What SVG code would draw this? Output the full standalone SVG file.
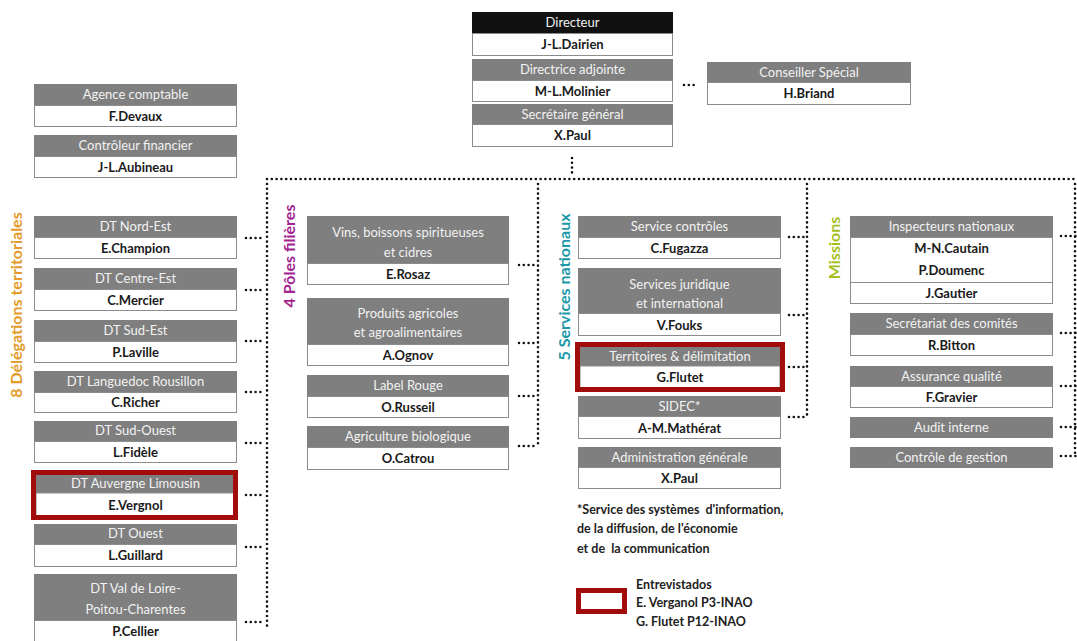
<svg xmlns="http://www.w3.org/2000/svg" width="1077" height="641" viewBox="0 0 1077 641">
<style>
.hd{fill:#7f7f7f}
.hdk{fill:#111}
.nm{fill:#fff;stroke:#8c8c8c;stroke-width:1}
.ht{font-family:Lato,"Open Sans",sans-serif;font-size:13px;fill:#f2f2f2;text-anchor:middle}
.nt{font-family:Lato,"Open Sans",sans-serif;font-size:13px;font-weight:bold;fill:#1a1a1a;text-anchor:middle}
.red{fill:none;stroke:#a10d0d;stroke-width:5}
.dot{fill:none;stroke:#111;stroke-width:2.6;stroke-dasharray:0 4.8;stroke-linecap:round}
.sec{font-family:Lato,"Open Sans",sans-serif;font-size:16px;font-weight:bold;text-anchor:middle}
.note{font-family:Lato,"Open Sans",sans-serif;font-size:12.5px;font-weight:bold;fill:#222}
</style>
<rect width="1077" height="641" fill="#fff"/>

<g id="connectors">
<path class="dot" d="M572 158V174"/>
<path class="dot" d="M267 179H1077"/>
<path class="dot" d="M267 184V626"/>
<path class="dot" d="M538 184V447"/>
<path class="dot" d="M807 184V418"/>
<path class="dot" d="M1075 184V457"/>
<path class="dot" d="M684 85H698"/>
<path class="dot" d="M246 238H265M246 290H265M246 341H265M246 392H265M246 443H265M246 495H265M246 547H265M246 622H265"/>
<path class="dot" d="M519 265H536M519 343H536M519 396H536M519 446H536"/>
<path class="dot" d="M789 237H805M789 315H805M789 367H805M789 417H805"/>
<path class="dot" d="M1061 236H1077M1061 333H1077M1061 386H1077M1061 427H1077M1061 456H1077"/>
</g>

<g id="labels">
<text class="sec" fill="#e39b2c" transform="translate(22 305) rotate(-90)">8 Délégations territoriales</text>
<text class="sec" fill="#a3238f" transform="translate(295 256) rotate(-90)">4 Pôles filières</text>
<text class="sec" fill="#1a98a8" transform="translate(570 287) rotate(-90)">5 Services nationaux</text>
<text class="sec" fill="#a6bf1e" transform="translate(840 248) rotate(-90)">Missions</text>
</g>

<g id="n-directeur">
<rect class="hdk" x="472" y="12" width="201" height="21"/><rect class="nm" x="472.5" y="33.5" width="200" height="22"/>
<text class="ht" x="572.5" y="27">Directeur</text><text class="nt" x="572.5" y="49">J-L.Dairien</text>
</g>
<g id="n-directrice">
<rect class="hd" x="472" y="59" width="201" height="21"/><rect class="nm" x="472.5" y="80.5" width="200" height="21"/>
<text class="ht" x="572.5" y="74">Directrice adjointe</text><text class="nt" x="572.5" y="96">M-L.Molinier</text>
</g>
<g id="n-secretaire">
<rect class="hd" x="472" y="104" width="201" height="20"/><rect class="nm" x="472.5" y="124.5" width="200" height="22"/>
<text class="ht" x="572.5" y="119">Secrétaire général</text><text class="nt" x="572.5" y="140">X.Paul</text>
</g>
<g id="n-conseiller">
<rect class="hd" x="707" y="62" width="204" height="20"/><rect class="nm" x="707.5" y="82.5" width="203" height="22"/>
<text class="ht" x="809" y="77">Conseiller Spécial</text><text class="nt" x="809" y="98">H.Briand</text>
</g>

<g id="n-agence">
<rect class="hd" x="34" y="84" width="203" height="21"/><rect class="nm" x="34.5" y="105.5" width="202" height="21"/>
<text class="ht" x="135.5" y="99">Agence comptable</text><text class="nt" x="135.5" y="121">F.Devaux</text>
</g>
<g id="n-controleur">
<rect class="hd" x="34" y="135" width="203" height="21"/><rect class="nm" x="34.5" y="156.5" width="202" height="21"/>
<text class="ht" x="135.5" y="150">Contrôleur financier</text><text class="nt" x="135.5" y="172">J-L.Aubineau</text>
</g>

<g id="n-dt-nordest">
<rect class="hd" x="34" y="216" width="203" height="21"/><rect class="nm" x="34.5" y="237.5" width="202" height="21"/>
<text class="ht" x="135.5" y="231">DT Nord-Est</text><text class="nt" x="135.5" y="253">E.Champion</text>
</g>
<g id="n-dt-centreest">
<rect class="hd" x="34" y="268" width="203" height="21"/><rect class="nm" x="34.5" y="289.5" width="202" height="21"/>
<text class="ht" x="135.5" y="283">DT Centre-Est</text><text class="nt" x="135.5" y="305">C.Mercier</text>
</g>
<g id="n-dt-sudest">
<rect class="hd" x="34" y="320" width="203" height="21"/><rect class="nm" x="34.5" y="341.5" width="202" height="21"/>
<text class="ht" x="135.5" y="335">DT Sud-Est</text><text class="nt" x="135.5" y="357">P.Laville</text>
</g>
<g id="n-dt-languedoc">
<rect class="hd" x="34" y="371" width="203" height="21"/><rect class="nm" x="34.5" y="392.5" width="202" height="20"/>
<text class="ht" x="135.5" y="386">DT Languedoc Rousillon</text><text class="nt" x="135.5" y="407">C.Richer</text>
</g>
<g id="n-dt-sudouest">
<rect class="hd" x="34" y="421" width="203" height="20"/><rect class="nm" x="34.5" y="441.5" width="202" height="21"/>
<text class="ht" x="135.5" y="435">DT Sud-Ouest</text><text class="nt" x="135.5" y="457">L.Fidèle</text>
</g>
<g id="n-dt-auvergne">
<rect class="hd" x="36" y="475" width="199" height="18"/><rect class="nm" x="36" y="493" width="199" height="23" stroke="none"/>
<rect class="red" x="33.5" y="472.5" width="202" height="45"/>
<text class="ht" x="135.5" y="488">DT Auvergne Limousin</text><text class="nt" x="135.5" y="510">E.Vergnol</text>
</g>
<g id="n-dt-ouest">
<rect class="hd" x="34" y="524" width="203" height="20"/><rect class="nm" x="34.5" y="544.5" width="202" height="22"/>
<text class="ht" x="135.5" y="538">DT Ouest</text><text class="nt" x="135.5" y="560">L.Guillard</text>
</g>
<g id="n-dt-valdeloire">
<rect class="hd" x="34" y="574" width="203" height="46"/><rect class="nm" x="34.5" y="620.5" width="202" height="25"/>
<text class="ht" x="135.5" y="593">DT Val de Loire-</text><text class="ht" x="135.5" y="614">Poitou-Charentes</text>
<text class="nt" x="135.5" y="636">P.Cellier</text>
</g>

<g id="n-vins">
<rect class="hd" x="307" y="216" width="202" height="47"/><rect class="nm" x="307.5" y="263.5" width="201" height="21"/>
<text class="ht" x="408" y="237">Vins, boissons spiritueuses</text><text class="ht" x="408" y="257">et cidres</text>
<text class="nt" x="408" y="279">E.Rosaz</text>
</g>
<g id="n-produits">
<rect class="hd" x="307" y="298" width="202" height="46"/><rect class="nm" x="307.5" y="344.5" width="201" height="21"/>
<text class="ht" x="408" y="318">Produits agricoles</text><text class="ht" x="408" y="337">et agroalimentaires</text>
<text class="nt" x="408" y="360">A.Ognov</text>
</g>
<g id="n-labelrouge">
<rect class="hd" x="307" y="375" width="202" height="21"/><rect class="nm" x="307.5" y="396.5" width="201" height="21"/>
<text class="ht" x="408" y="390">Label Rouge</text><text class="nt" x="408" y="412">O.Russeil</text>
</g>
<g id="n-agribio">
<rect class="hd" x="307" y="426" width="202" height="21"/><rect class="nm" x="307.5" y="447.5" width="201" height="22"/>
<text class="ht" x="408" y="441">Agriculture biologique</text><text class="nt" x="408" y="463">O.Catrou</text>
</g>

<g id="n-controles">
<rect class="hd" x="578" y="216" width="203" height="21"/><rect class="nm" x="578.5" y="237.5" width="202" height="21"/>
<text class="ht" x="679.5" y="231">Service contrôles</text><text class="nt" x="679.5" y="253">C.Fugazza</text>
</g>
<g id="n-juridique">
<rect class="hd" x="578" y="268" width="203" height="45"/><rect class="nm" x="578.5" y="313.5" width="202" height="22"/>
<text class="ht" x="679.5" y="289">Services juridique</text><text class="ht" x="679.5" y="308">et international</text>
<text class="nt" x="679.5" y="330">V.Fouks</text>
</g>
<g id="n-territoires">
<rect class="hd" x="580" y="347" width="200" height="19"/><rect class="nm" x="580" y="366" width="200" height="22" stroke="none"/>
<rect class="red" x="577.5" y="344.5" width="205" height="45"/>
<text class="ht" x="680" y="361">Territoires &amp; délimitation</text><text class="nt" x="680" y="382">G.Flutet</text>
</g>
<g id="n-sidec">
<rect class="hd" x="578" y="396" width="203" height="20"/><rect class="nm" x="578.5" y="416.5" width="202" height="22"/>
<text class="ht" x="679.5" y="411">SIDEC*</text><text class="nt" x="679.5" y="433">A-M.Mathérat</text>
</g>
<g id="n-admin">
<rect class="hd" x="578" y="447" width="203" height="20"/><rect class="nm" x="578.5" y="467.5" width="202" height="21"/>
<text class="ht" x="679.5" y="462">Administration générale</text><text class="nt" x="679.5" y="483">X.Paul</text>
</g>

<g id="n-inspecteurs">
<rect class="hd" x="850" y="216" width="203" height="21"/><rect class="nm" x="850.5" y="237.5" width="202" height="45"/>
<rect class="nm" x="850.5" y="282.5" width="202" height="21"/>
<text class="ht" x="951.5" y="231">Inspecteurs nationaux</text>
<text class="nt" x="951.5" y="253">M-N.Cautain</text><text class="nt" x="951.5" y="275">P.Doumenc</text>
<text class="nt" x="951.5" y="298">J.Gautier</text>
</g>
<g id="n-secretariat">
<rect class="hd" x="850" y="313" width="203" height="21"/><rect class="nm" x="850.5" y="334.5" width="202" height="21"/>
<text class="ht" x="951.5" y="328">Secrétariat des comités</text><text class="nt" x="951.5" y="350">R.Bitton</text>
</g>
<g id="n-assurance">
<rect class="hd" x="850" y="366" width="203" height="20"/><rect class="nm" x="850.5" y="386.5" width="202" height="21"/>
<text class="ht" x="951.5" y="381">Assurance qualité</text><text class="nt" x="951.5" y="402">F.Gravier</text>
</g>
<g id="n-audit">
<rect class="hd" x="850" y="417" width="203" height="21"/>
<text class="ht" x="951.5" y="432">Audit interne</text>
</g>
<g id="n-gestion">
<rect class="hd" x="850" y="447" width="203" height="21"/>
<text class="ht" x="951.5" y="462">Contrôle de gestion</text>
</g>

<g id="footnote">
<text class="note" x="577" y="514" xml:space="preserve">*Service des systèmes  d'information,</text>
<text class="note" x="577" y="533">de la diffusion, de l'économie</text>
<text class="note" x="577" y="553" xml:space="preserve">et de  la communication</text>
</g>
<g id="legend">
<rect x="578.5" y="590.5" width="46" height="21" fill="#fff" stroke="#a10d0d" stroke-width="5"/>
<text class="note" x="636" y="589">Entrevistados</text>
<text class="note" x="636" y="607">E. Verganol P3-INAO</text>
<text class="note" x="636" y="626">G. Flutet P12-INAO</text>
</g>
</svg>
